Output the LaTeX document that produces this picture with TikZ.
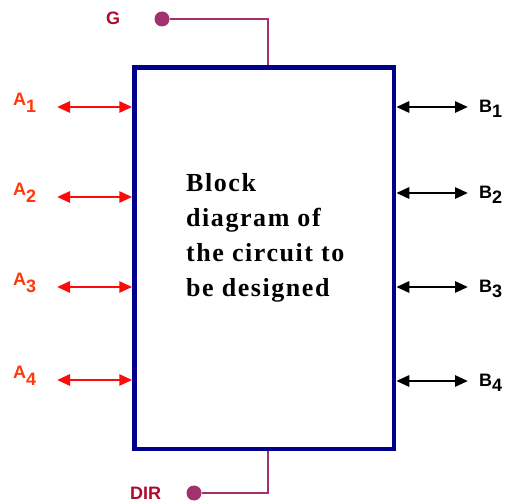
\documentclass[tikz,border=0pt]{standalone}
\usepackage{fontspec}
\setmainfont{Liberation Serif}
\newfontfamily\labfont{Liberation Sans}
\newfontfamily\boxfont[LetterSpace=6]{Liberation Serif}
\usetikzlibrary{arrows.meta,positioning}

\definecolor{boxblue}{RGB}{0,0,140}
\definecolor{sigred}{RGB}{255,10,10}
\definecolor{labred}{RGB}{255,55,10}
\definecolor{ctlred}{RGB}{175,10,45}
\definecolor{ctlline}{RGB}{160,50,110}

\tikzset{
  port/.style={line width=2.8pt},
  portlab/.style={font=\labfont\bfseries\fontsize{18}{18}\selectfont, inner sep=0pt, anchor=base west},
  ctllab/.style={font=\labfont\bfseries\fontsize{18}{18}\selectfont, inner sep=0pt, anchor=base west, color=ctlred},
  ctl/.style={line width=2.4pt, color=ctlline}
}

\newcommand{\sublab}[3]{#1\raisebox{-#3pt}{\fontsize{18}{18}\selectfont #2}}

\begin{document}
\begin{tikzpicture}[x=1pt,y=1pt,>={Triangle[length=13pt,width=11pt]}]
\useasboundingbox (0,0) rectangle (511,503);

\node[draw=boxblue, line width=4.5pt, minimum width=259.5pt, minimum height=381.5pt, inner sep=0pt] (box) at (264.25,244.75) {};

\node[align=left, font=\boxfont\bfseries\fontsize{26}{35}\selectfont, anchor=north west, inner sep=0pt] (txt) at (186,330) {Block\\diagram of\\the circuit to\\be designed};

% left side, A
\foreach \i/\y in {1/396,2/306,3/216,4/123}{
  \coordinate (a\i) at (57,\y);
  \draw[<->, port, color=sigred] (a\i) -- (a\i -| box.west);
  \node[portlab, color=labred] (la\i) at (13,\y+1) {\sublab{A}{\i}{7}};
}

% right side, B
\foreach \i/\y in {1/396,2/310,3/216,4/122}{
  \coordinate (b\i) at (468,\y);
  \draw[<->, port] (b\i -| box.east) -- (b\i);
  \node[portlab] (lb\i) at (479,\y-6) {\sublab{B}{\i}{5}};
}

% G input
\node[ctllab] (glab) at (106,478) {G};
\node[circle, fill=ctlline, inner sep=0pt, minimum size=15pt] (g) at (162,484) {};
\draw[ctl] (g) -- (268,484) -- (268,436 |- box.north);

% DIR input
\node[ctllab] (dirlab) at (130,3) {DIR};
\node[circle, fill=ctlline, inner sep=0pt, minimum size=15pt] (dir) at (194,10) {};
\draw[ctl] (dir) -- (268,10) -- (268,20 |- box.south);

\end{tikzpicture}
\end{document}
